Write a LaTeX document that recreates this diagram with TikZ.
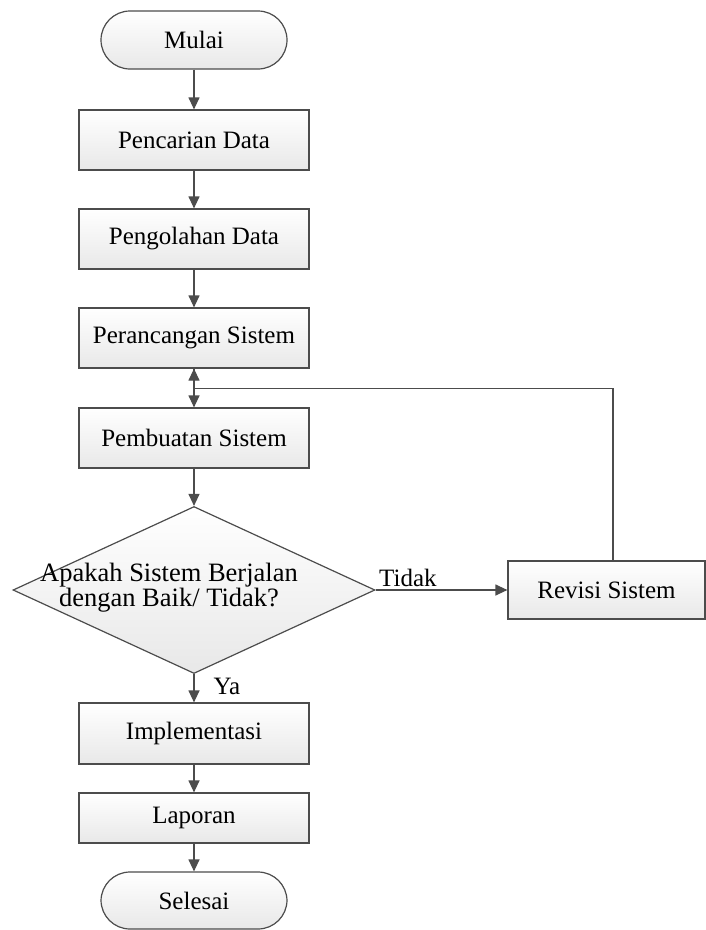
\documentclass[tikz,border=0pt]{standalone}
\usepackage{fontspec}
\setmainfont{Liberation Serif}
\usetikzlibrary{arrows.meta,shapes.geometric,calc}
\tikzset{
  langkah/.style={draw=black!70, line width=1.2pt, top color=white, bottom color=black!9,
    minimum width=230pt, minimum height=60pt, inner sep=0pt},
  terminal/.style={langkah, minimum width=186pt, minimum height=58pt, rounded corners=29pt},
  panah/.style={draw=black!70, line width=1.2pt, -{Triangle[length=12pt,width=11pt]}},
}
\begin{document}
\begin{tikzpicture}[x=1pt, y=-1pt, font=\fontsize{25}{23}\selectfont]
  \useasboundingbox (0,0) rectangle (706,930);
  \def\midX{194}
  \node[terminal] (Mulai) at (\midX,40) {Mulai};
  \node[langkah] (Pencarian) at (\midX,140) {Pencarian Data};
  \node[langkah] (Pengolahan) at (\midX,239) {Pengolahan Data};
  \node[langkah] (Perancangan) at (\midX,338) {Perancangan Sistem};
  \node[langkah] (Pembuatan) at (\midX,438) {Pembuatan Sistem};
  \node[diamond, draw=black!70, line width=1.2pt, top color=white, bottom color=black!9,
    minimum width=362pt, minimum height=167pt, inner sep=0pt] (Cek) at (\midX,590) {};
  \node[align=center, font=\fontsize{26.5}{23}\selectfont] (CekTeks) at (169,588)
    {Apakah Sistem Berjalan\\dengan Baik/ Tidak?};
  \node[langkah, minimum width=197pt, minimum height=58pt] (Revisi) at (606.5,590) {Revisi Sistem};
  \node[langkah, minimum height=61pt] (Implementasi) at (\midX,733.5) {Implementasi};
  \node[langkah, minimum height=50pt] (Laporan) at (\midX,818) {Laporan};
  \node[terminal, minimum height=57pt] (Selesai) at (\midX,900.5) {Selesai};
  % alur utama
  \draw[panah] (Mulai) -- (Pencarian);
  \draw[panah] (Pencarian) -- (Pengolahan);
  \draw[panah] (Pengolahan) -- (Perancangan);
  \draw[panah] (Perancangan) -- (Pembuatan);
  \draw[panah] (Pembuatan) -- (Cek);
  \draw[panah] (Cek) -- (Implementasi)
    node (Ya) [pos=0, anchor=north west, xshift=16pt, inner sep=3pt] {Ya};
  \draw[panah] (Implementasi) -- (Laporan);
  \draw[panah] (Laporan) -- (Selesai);
  % revisi lalu kembali ke perancangan
  \draw[panah] (Cek.east) -- (Revisi.west)
    node (Tidak) [pos=0, anchor=south west, inner sep=3pt] {Tidak};
  \coordinate (Balik) at ($(Perancangan.south)+(0,20)$);
  \draw[panah] ([xshift=6.5pt]Revisi.north) |- (Balik) -- (Perancangan.south);
\end{tikzpicture}
\end{document}
